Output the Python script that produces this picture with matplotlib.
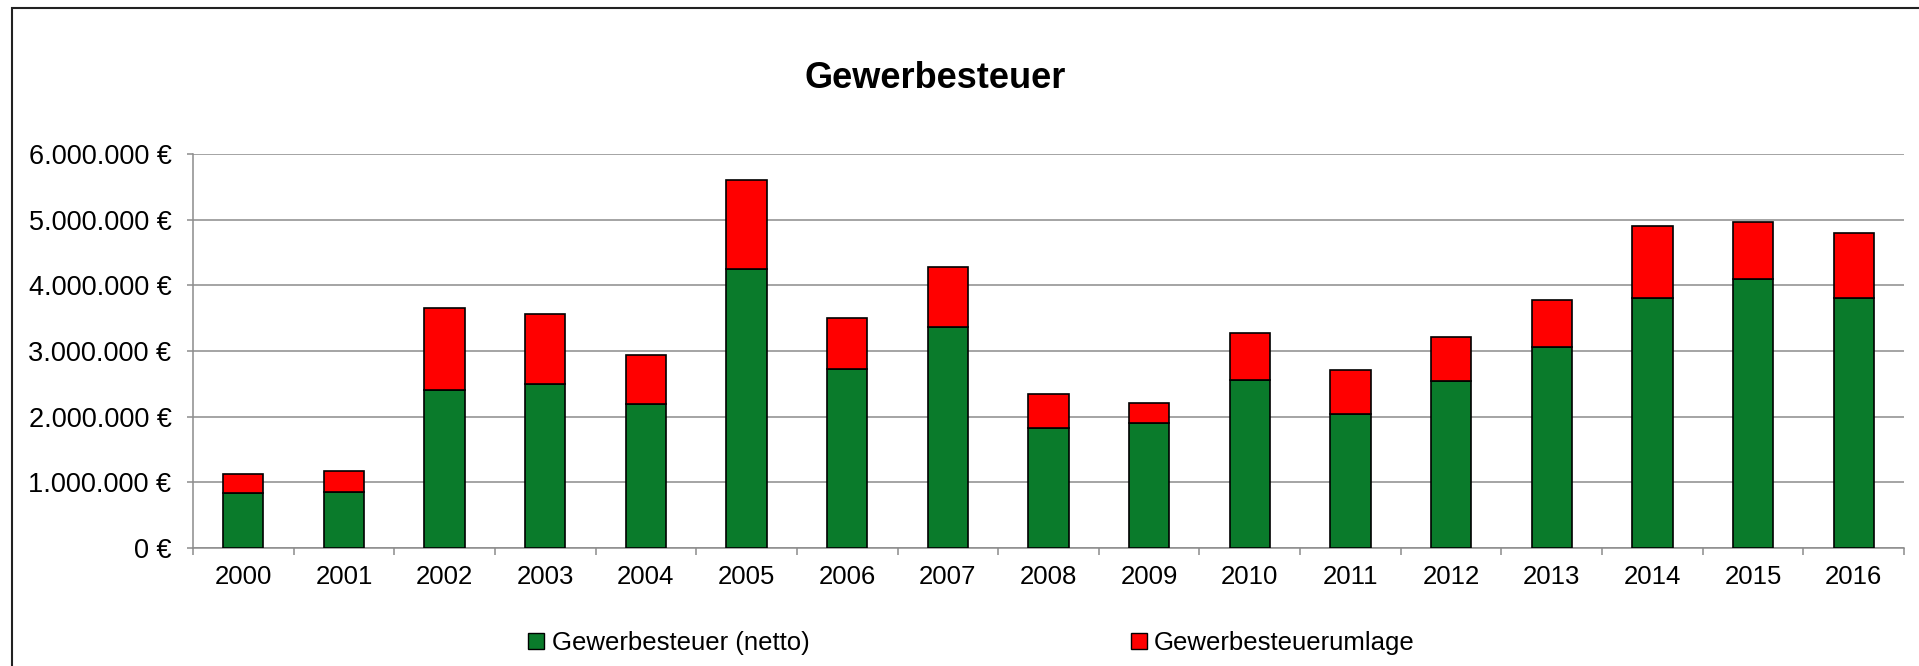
import numpy as np
import matplotlib
matplotlib.use("Agg")
import matplotlib.pyplot as plt
from matplotlib.patches import Rectangle, Patch
from matplotlib.ticker import FuncFormatter, MultipleLocator

# --- Data ---
years = [str(y) for y in range(2000, 2017)]
netto = [839000, 849000, 2405000, 2496000, 2196000, 4250000, 2725000, 3360000,
         1830000, 1901000, 2562000, 2034000, 2537000, 3061000, 3808000, 4098000, 3803000]
total = [1124000, 1169000, 3660000, 3564000, 2939000, 5608000, 3508000, 4276000,
         2344000, 2201000, 3269000, 2705000, 3213000, 3772000, 4911000, 4962000, 4794000]
umlage = [t - n for t, n in zip(total, netto)]

GREEN = "#0A7B2B"
RED = "#FF0000"
GRID = "#8C8C8C"
FS = 18.5

plt.rcParams["font.family"] = ["Liberation Sans", "DejaVu Sans"]

W, H = 1919, 666
fig = plt.figure(figsize=(W / 100, H / 100), dpi=100)

# outer chart border (runs off the right/bottom like in the reference)
fig.patches.append(Rectangle((12 / W, -0.2), 1.2, 1.2 - 8 / H, transform=fig.transFigure,
                             fill=False, edgecolor="#222222", linewidth=1.5, zorder=0))

ax = fig.add_axes([193 / W, 118 / H, (1904 - 193) / W, (548 - 154) / H])

x = np.arange(len(years))
ax.bar(x, netto, width=0.4, color=GREEN, edgecolor="black", linewidth=1.2, zorder=3,
       label="Gewerbesteuer (netto)")
ax.bar(x, umlage, width=0.4, bottom=netto, color=RED, edgecolor="black", linewidth=1.2, zorder=3,
       label="Gewerbesteuerumlage")

ax.set_xlim(-0.5, len(years) - 0.5)
ax.set_ylim(0, 6000000)
ax.yaxis.set_major_locator(MultipleLocator(1000000))
ax.yaxis.set_major_formatter(FuncFormatter(lambda v, p: f"{int(v):,}".replace(",", ".") + " €"))

ax.set_xticks(x)
ax.set_xticklabels(years)
ax.set_xticks(np.arange(-0.5, len(years)), minor=True)
ax.tick_params(axis="x", which="major", length=0, pad=12, labelsize=FS)
ax.tick_params(axis="x", which="minor", length=5, width=1.1, color=GRID)
ax.tick_params(axis="y", length=4.5, width=1.1, color=GRID, pad=11, labelsize=19.5)

ax.grid(axis="y", color=GRID, linewidth=1.1, zorder=0)
ax.set_axisbelow(True)
for s in ["top", "right"]:
    ax.spines[s].set_visible(False)
for s in ["left", "bottom"]:
    ax.spines[s].set_color(GRID)
    ax.spines[s].set_linewidth(1.1)

fig.text(935 / W, 1 - 78 / H, "Gewerbesteuer", ha="center", va="center",
         fontsize=26, fontweight="bold")

handles = [Patch(facecolor=GREEN, edgecolor="black", linewidth=1.0, label="Gewerbesteuer (netto)"),
           Patch(facecolor=RED, edgecolor="black", linewidth=1.0, label="Gewerbesteuerumlage")]
fig.legend(handles=handles, loc="center left", bbox_to_anchor=(528 / W, 1 - 643 / H),
           ncol=2, frameon=False, fontsize=FS, borderpad=0, borderaxespad=0,
           handlelength=0.62, handleheight=0.62, handletextpad=0.3, columnspacing=12.5)

fig.savefig("out.png", dpi=100)
